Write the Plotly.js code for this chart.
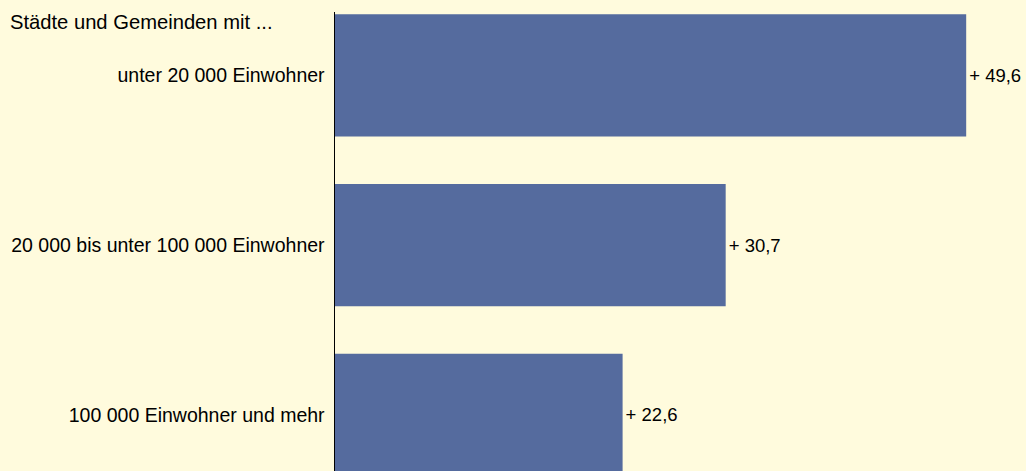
<!DOCTYPE html>
<html>
<head>
<meta charset="utf-8">
<script src="https://cdn.plot.ly/plotly-3.0.1.min.js"></script>
<style>html,body{margin:0;padding:0;background:#FFFBDD;}#chart{width:1026px;height:471px;}</style>
</head>
<body>
<div id="chart"></div>
<script>
const categories = ["unter 20 000 Einwohner", "20 000 bis unter 100 000 Einwohner", "100 000 Einwohner und mehr"];
const values = [49.6, 30.7, 22.6];
const labels = values.map(v => "+ " + v.toFixed(1).replace(".", ","));

const FONT = "Liberation Sans, Arial, sans-serif";

const trace = {
  type: "bar",
  orientation: "h",
  y: categories,
  x: values,
  text: labels,
  textposition: "outside",
  cliponaxis: false,
  constraintext: "none",
  textfont: {family: FONT, size: 18.5, color: "#000"},
  marker: {color: "#556B9E", line: {width: 0}},
  width: 0.72,
  hoverinfo: "none"
};

const layout = {
  width: 1026, height: 471,
  margin: {l: 335, r: 0, t: 12, b: 0},
  paper_bgcolor: "#FFFBDD",
  plot_bgcolor: "#FFFBDD",
  font: {family: FONT, size: 19.5, color: "#000"},
  showlegend: false,
  title: {
    text: "Städte und Gemeinden mit ...",
    x: 0.0097, xref: "container", xanchor: "left",
    y: 0.953, yref: "container", yanchor: "middle",
    font: {family: FONT, size: 20.2, color: "#000"}
  },
  xaxis: {
    range: [0, 54.3],
    showgrid: false, zeroline: false, showticklabels: false, showline: false, ticks: ""
  },
  yaxis: {
    type: "category",
    range: [2.33, -0.373],
    showgrid: false, zeroline: false,
    showline: true, linecolor: "#000", linewidth: 1.5,
    ticks: "", ticklabelstandoff: 5,
    tickfont: {family: FONT, size: 19.5, color: "#000"}
  }
};

Plotly.newPlot("chart", [trace], layout, {staticPlot: true, displayModeBar: false});
</script>
</body>
</html>
